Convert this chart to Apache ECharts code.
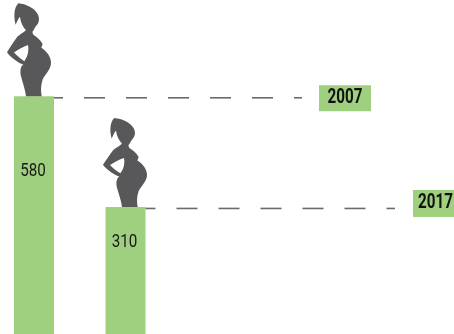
<!DOCTYPE html>
<html>
<head>
<meta charset="utf-8">
<style>html,body{margin:0;padding:0;background:#fff;overflow:hidden}#c{width:454px;height:334px}</style>
<script src="https://cdn.jsdelivr.net/npm/echarts@6/dist/echarts.min.js"></script>
</head>
<body>
<div id="c"></div>
<script>
const years = ['2007', '2017'];
const values = [580, 310];

const face = 'Roboto,"Liberation Sans",sans-serif';
const green = '#9fd07f';
const labelDrop = [75, 35];
const leaderEnd = [302, 395];
const leaderPhase = [12, 11];
const tagLeft = [319, 413];
const tagWidth = [52, 45];
const tagTop = [-11, -17];
const tagHeight = [26, 27];
const figureShift = [-5, -0.5];
const figureHeight = [93, 89];
const figure = 'M55,12 C78,14 104,26 114,46 C120,60 116,72 108,80 C103,86 102,92 97,98 L100,106 C110,112 122,122 128,134 L124,145 C140,155 153,172 153,190 C153,210 135,225 128,240 C122,258 122,275 125,290 L78,290 C76,270 68,250 63,230 C59,215 62,200 70,195 L62,192 C50,185 30,172 21,158 C32,142 42,125 52,112 C60,104 72,100 78,92 C70,84 62,70 60,52 C56,55 52,65 47,76 C41,55 41,25 55,12 Z M84,137 C70,142 55,150 42,159 C50,168 62,178 73,185 C80,175 88,160 84,137 Z';

const chart = echarts.init(document.getElementById('c'), null, {renderer: 'canvas'});
chart.setOption({
  animation: false,
  backgroundColor: '#fff',
  grid: {left: 34, top: 0, width: 91.5, height: 334},
  xAxis: {type: 'category', data: years, show: false, boundaryGap: false},
  yAxis: {type: 'value', min: 0, max: 815, show: false},
  series: [
    {
      type: 'bar',
      clip: false,
      z: 1,
      barWidth: 40,
      itemStyle: {color: green},
      data: values
    },
    {
      type: 'custom',
      clip: false,
      silent: true,
      z: 5,
      data: values.map((v, i) => [i, v]),
      renderItem(params, api) {
        const i = api.value(0);
        const v = api.value(1);
        const p = api.coord([i, v]);
        const lineY = p[1] + 1.5;
        return {
          type: 'group',
          children: [
            {
              type: 'line',
              shape: {x1: p[0] + 20, y1: lineY, x2: leaderEnd[i], y2: lineY},
              style: {stroke: '#6a6a6a', lineWidth: 1.6, lineDash: [21, 21], lineDashOffset: leaderPhase[i]}
            },
            {
              type: 'path',
              shape: {
                pathData: figure,
                layout: 'cover',
                x: p[0] + figureShift[i] - 22,
                y: p[1] - figureHeight[i],
                width: 44,
                height: figureHeight[i]
              },
              style: {fill: '#58585a'}
            },
            {
              type: 'text',
              x: p[0] - 1,
              y: p[1] + labelDrop[i],
              scaleX: 0.8,
              style: {
                x: 0, y: 0,
                text: String(v),
                align: 'center',
                verticalAlign: 'middle',
                fill: '#1a1a1a',
                font: '19px ' + face
              }
            },
            {
              type: 'rect',
              shape: {x: tagLeft[i], y: p[1] + tagTop[i], width: tagWidth[i], height: tagHeight[i]},
              style: {fill: green}
            },
            {
              type: 'text',
              x: tagLeft[i] + tagWidth[i] / 2,
              y: p[1] + tagTop[i] + tagHeight[i] / 2,
              scaleX: 0.76,
              style: {
                x: 0, y: 0,
                text: years[i],
                align: 'center',
                verticalAlign: 'middle',
                fill: '#111',
                font: 'bold 20px ' + face
              }
            }
          ]
        };
      }
    }
  ]
});
</script>
</body>
</html>
